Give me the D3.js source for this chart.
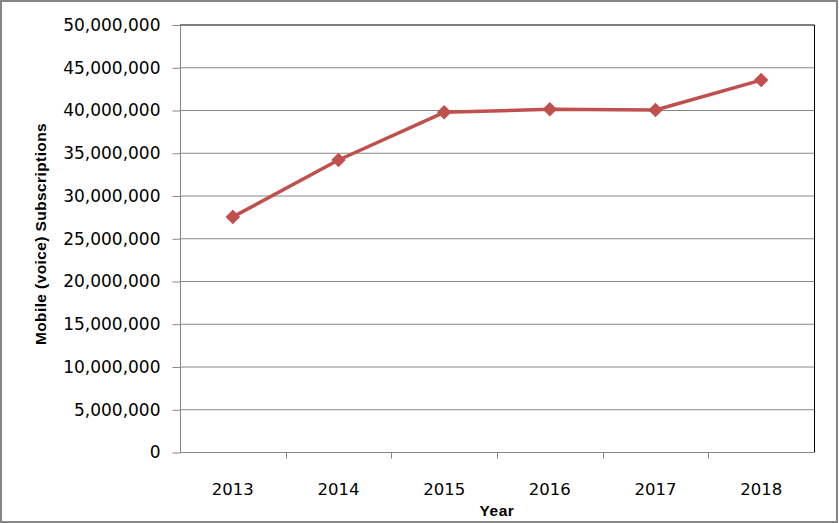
<!DOCTYPE html>
<html>
<head>
<meta charset="utf-8">
<script src="https://cdn.jsdelivr.net/npm/d3@7"></script>
<style>
  body { margin: 0; background: #fff; }
  .tick text { font-family: "DejaVu Sans", Verdana, sans-serif; }
</style>
</head>
<body>
<div id="chart"></div>
<script>
  // Data
  var years = ["2013", "2014", "2015", "2016", "2017", "2018"];
  var subscriptions = [27500000, 34150000, 39730000, 40080000, 40000000, 43500000];
  var yTicks = [0, 5000000, 10000000, 15000000, 20000000, 25000000, 30000000, 35000000, 40000000, 45000000, 50000000];

  var width = 839, height = 523;
  var plot = {left: 180, right: 814, top: 24.5, bottom: 452};

  var svg = d3.select("#chart")
      .append("svg")
      .attr("width", width)
      .attr("height", height);

  // outer frame
  svg.append("rect")
      .attr("x", 1).attr("y", 1)
      .attr("width", width - 3).attr("height", height - 2)
      .attr("fill", "#fff")
      .attr("stroke", "#868686")
      .attr("stroke-width", 2);

  // scales
  var xScale = d3.scaleBand()
      .domain(years)
      .range([plot.left, plot.right]);

  var yScale = d3.scaleLinear()
      .domain([0, 50000000])
      .range([plot.bottom, plot.top]);

  // gridlines
  svg.append("g")
      .selectAll("line")
      .data(yTicks.slice(1, -1))
      .enter().append("line")
      .attr("x1", plot.left).attr("x2", plot.right)
      .attr("y1", d => yScale(d) + 0.5).attr("y2", d => yScale(d) + 0.5)
      .attr("stroke", "#868686");

  // plot border top and right (black)
  svg.append("path")
      .attr("d", `M${plot.left},${plot.top + 0.5}H${plot.right + 0.5}V${plot.bottom}`)
      .attr("fill", "none")
      .attr("stroke", "#000");

  // y axis
  var yAxis = svg.append("g")
      .attr("transform", `translate(${plot.left + 0.5}, 0.5)`)
      .call(d3.axisLeft(yScale).tickValues(yTicks).tickSize(8).tickPadding(12)
        .tickFormat(d3.format(",")));
  yAxis.selectAll("line, path").attr("stroke", "#868686");
  yAxis.select(".domain").attr("d", `M0,${plot.top}V${plot.bottom}`);
  yAxis.selectAll("text")
      .attr("font-size", "17px")
      .attr("fill", "#000");

  // x axis - ticks at category boundaries
  var xAxisG = svg.append("g")
      .attr("transform", `translate(0, ${plot.bottom + 0.5})`);
  xAxisG.append("line")
      .attr("x1", plot.left).attr("x2", plot.right + 1)
      .attr("stroke", "#868686");
  xAxisG.selectAll(".xtick")
      .data(years.slice(1))
      .enter().append("line")
      .attr("class", "xtick")
      .attr("x1", d => Math.round(xScale(d)) + 0.5)
      .attr("x2", d => Math.round(xScale(d)) + 0.5)
      .attr("y1", 0).attr("y2", 6)
      .attr("stroke", "#868686");
  xAxisG.selectAll(".xlabel")
      .data(years)
      .enter().append("text")
      .attr("class", "xlabel")
      .attr("x", d => xScale(d) + xScale.bandwidth() / 2)
      .attr("y", 42)
      .attr("text-anchor", "middle")
      .attr("font-family", "DejaVu Sans, Verdana, sans-serif")
      .attr("font-size", "16.5px")
      .text(d => d);

  // axis titles
  svg.append("text")
      .attr("x", 497)
      .attr("y", 516)
      .attr("text-anchor", "middle")
      .attr("font-family", "Liberation Sans, Arial, sans-serif")
      .attr("font-weight", "bold")
      .attr("font-size", "15.5px")
      .attr("letter-spacing", "0.5px")
      .text("Year");

  svg.append("text")
      .attr("transform", "translate(46, 234) rotate(-90)")
      .attr("text-anchor", "middle")
      .attr("font-family", "Liberation Sans, Arial, sans-serif")
      .attr("font-weight", "bold")
      .attr("font-size", "15.5px")
      .attr("letter-spacing", "0.4px")
      .text("Mobile (voice) Subscriptions");

  // line
  var points = years.map((y, i) => ({year: y, value: subscriptions[i]}));
  var line = d3.line()
      .x(d => xScale(d.year) + xScale.bandwidth() / 2)
      .y(d => yScale(d.value));

  svg.append("path")
      .datum(points)
      .attr("d", line)
      .attr("fill", "none")
      .attr("stroke", "#C0504D")
      .attr("stroke-width", 3.5)
      .attr("stroke-linejoin", "round");

  svg.selectAll(".marker")
      .data(points)
      .enter().append("path")
      .attr("class", "marker")
      .attr("d", d3.symbol().type(d3.symbolDiamond2).size(135))
      .attr("transform", d => `translate(${xScale(d.year) + xScale.bandwidth() / 2}, ${yScale(d.value)})`)
      .attr("fill", "#C0504D");
</script>
</body>
</html>
